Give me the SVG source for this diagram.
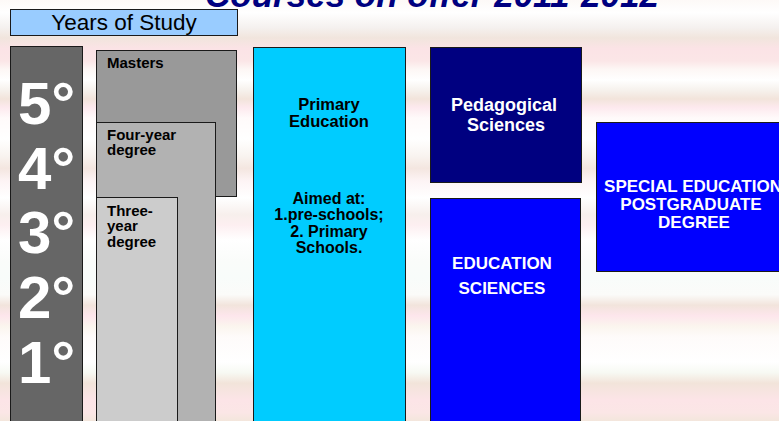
<svg xmlns="http://www.w3.org/2000/svg" width="779" height="421" viewBox="0 0 779 421">
<defs>
<linearGradient id="bg" x1="0" y1="0" x2="0" y2="421" gradientUnits="userSpaceOnUse">
<stop offset="0" stop-color="#fdf9f7"/>
<stop offset="0.03" stop-color="#ffffff"/>
<stop offset="0.065" stop-color="#f5f1ef"/>
<stop offset="0.09" stop-color="#f1e5dd"/>
<stop offset="0.115" stop-color="#fbe3e6"/>
<stop offset="0.145" stop-color="#fbe6e7"/>
<stop offset="0.165" stop-color="#fdf7f5"/>
<stop offset="0.19" stop-color="#ffffff"/>
<stop offset="0.215" stop-color="#f6f1ec"/>
<stop offset="0.235" stop-color="#f2e4db"/>
<stop offset="0.255" stop-color="#fde9ee"/>
<stop offset="0.28" stop-color="#fffafa"/>
<stop offset="0.33" stop-color="#ffffff"/>
<stop offset="0.37" stop-color="#f9f4f0"/>
<stop offset="0.4" stop-color="#f4e6e0"/>
<stop offset="0.43" stop-color="#fdf4f5"/>
<stop offset="0.47" stop-color="#ffffff"/>
<stop offset="0.51" stop-color="#f7efec"/>
<stop offset="0.535" stop-color="#fdeff1"/>
<stop offset="0.57" stop-color="#ffffff"/>
<stop offset="0.62" stop-color="#fafcfa"/>
<stop offset="0.66" stop-color="#f8fcfa"/>
<stop offset="0.7" stop-color="#fbfbf9"/>
<stop offset="0.725" stop-color="#f2e4dc"/>
<stop offset="0.75" stop-color="#fde6ec"/>
<stop offset="0.775" stop-color="#fbf5ee"/>
<stop offset="0.8" stop-color="#fefbfa"/>
<stop offset="0.86" stop-color="#ffffff"/>
<stop offset="0.885" stop-color="#f7f9f3"/>
<stop offset="0.91" stop-color="#f2e4da"/>
<stop offset="0.95" stop-color="#fce4e7"/>
<stop offset="0.98" stop-color="#fbe6e6"/>
<stop offset="1" stop-color="#f3e6dc"/>
</linearGradient>
</defs>
<style>
.box{stroke:#1a1a1a;stroke-width:1}
.lbl{font-family:"Liberation Sans",Arial,sans-serif;font-weight:bold}
.blk{fill:#000000}
.wht{fill:#ffffff}
.yr{font-family:"Liberation Sans",Arial,sans-serif;font-weight:bold;font-size:60px;fill:#ffffff}
</style>
<rect x="0" y="0" width="779" height="421" fill="url(#bg)"/>
<text x="432" y="7" text-anchor="middle" font-family="Liberation Sans, Arial, sans-serif" font-weight="bold" font-style="italic" font-size="35" fill="#000080">Courses on offer 2011-2012</text>

<g id="years-of-study">
<rect class="box" x="10.5" y="9.5" width="227" height="26" fill="#99ccff"/>
<text x="124" y="30" text-anchor="middle" font-family="Liberation Sans, Arial, sans-serif" font-size="22.5" fill="#000000">Years of Study</text>
</g>

<g id="year-column">
<rect class="box" x="10.5" y="46.5" width="72" height="380" fill="#666666"/>
<text class="yr" x="18" y="124">5°</text>
<text class="yr" x="18" y="189">4°</text>
<text class="yr" x="18" y="253">3°</text>
<text class="yr" x="18" y="318">2°</text>
<text class="yr" x="18" y="383">1°</text>
</g>

<g id="masters">
<rect class="box" x="96.5" y="50.5" width="140" height="146" fill="#999999"/>
<text class="lbl blk" x="107" y="68" font-size="15">Masters</text>
</g>

<g id="four-year">
<rect class="box" x="96.5" y="122.5" width="119" height="310" fill="#b2b2b2"/>
<text class="lbl blk" x="107" y="140" font-size="15">Four-year</text>
<text class="lbl blk" x="107" y="155" font-size="15">degree</text>
</g>

<g id="three-year">
<rect class="box" x="96.5" y="197.5" width="81" height="240" fill="#cccccc"/>
<text class="lbl blk" x="107" y="216" font-size="15">Three-</text>
<text class="lbl blk" x="107" y="231" font-size="15">year</text>
<text class="lbl blk" x="107" y="247" font-size="15">degree</text>
</g>

<g id="primary-education">
<rect class="box" x="253.5" y="47.5" width="152" height="390" fill="#00ccff"/>
<g class="lbl blk" font-size="16.5" text-anchor="middle">
<text x="329" y="110">Primary</text>
<text x="329" y="127">Education</text>
</g>
<g class="lbl blk" font-size="16" text-anchor="middle">
<text x="329" y="204">Aimed at:</text>
<text x="329" y="220">1.pre-schools;</text>
<text x="329" y="237">2. Primary</text>
<text x="329" y="253">Schools.</text>
</g>
</g>

<g id="pedagogical-sciences">
<rect class="box" x="430.5" y="47.5" width="151" height="135" fill="#000080"/>
<g class="lbl wht" font-size="18" text-anchor="middle">
<text x="504" y="111">Pedagogical</text>
<text x="506" y="131">Sciences</text>
</g>
</g>

<g id="education-sciences">
<rect class="box" x="430.5" y="198.5" width="150" height="240" fill="#0000ff"/>
<g class="lbl wht" font-size="17" text-anchor="middle">
<text x="502" y="269">EDUCATION</text>
<text x="502" y="294">SCIENCES</text>
</g>
</g>

<g id="special-education">
<rect class="box" x="596.5" y="122.5" width="200" height="149" fill="#0000ff"/>
<g class="lbl wht" font-size="17" text-anchor="middle">
<text x="693" y="192">SPECIAL EDUCATION</text>
<text x="691" y="210">POSTGRADUATE</text>
<text x="694" y="228">DEGREE</text>
</g>
</g>

<g id="connectors"/>
</svg>
